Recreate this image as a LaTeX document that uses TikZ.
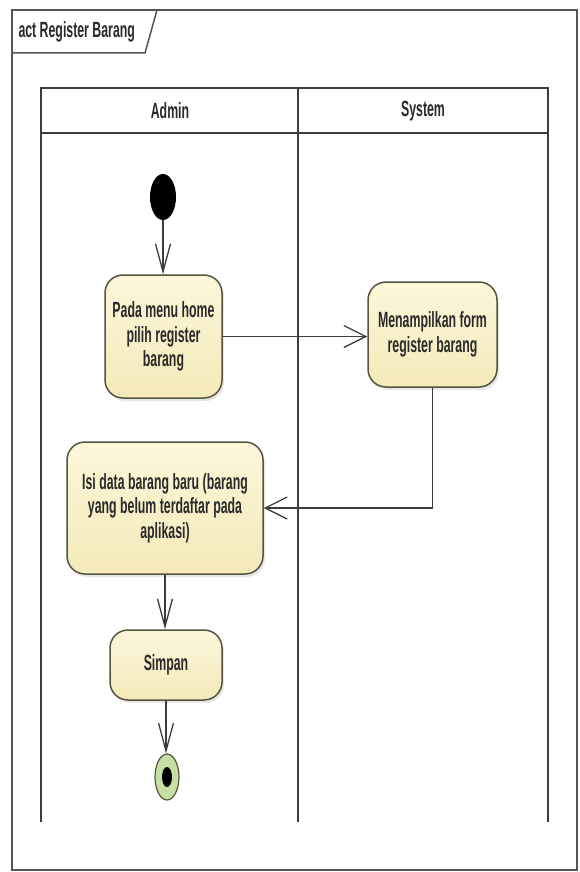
\documentclass[tikz,border=0pt]{standalone}
\usepackage{fontspec}
\newfontfamily\umlfont[FakeStretch=0.56]{Liberation Sans}
\usetikzlibrary{arrows.meta,shadows,shapes.geometric}

\definecolor{umlline}{HTML}{3C3C3C}
\definecolor{frameline}{HTML}{555555}
\definecolor{actfill}{HTML}{FCF7DA}
\definecolor{actfilldark}{HTML}{F3E9B9}
\definecolor{actborder}{HTML}{55553F}
\definecolor{finalgreen}{HTML}{C6DFA2}
\definecolor{umltext}{HTML}{2A2A2A}

\tikzset{
  x=1pt, y=-1pt,
  umltxt/.style={font=\umlfont\bfseries\fontsize{22}{24.5}\selectfont, text=umltext},
  action/.style={umltxt, draw=actborder, line width=1.5pt, rounded corners=18pt,
    top color=actfill, bottom color=actfilldark, align=center, inner sep=0pt,
    drop shadow={opacity=0.18, shadow xshift=2pt, shadow yshift=-3pt}},
  framebox/.style={draw=frameline, line width=1.5pt},
  lane/.style={draw=umlline, line width=1.6pt},
  flow/.style={draw=umlline, line width=1.4pt},
  vflow/.style={flow, -{Straight Barb[length=28pt,width=15pt,line width=1.3pt]}},
  hflow/.style={flow, -{Straight Barb[length=22pt,width=22pt,line width=1.3pt]}},
}

\begin{document}
\begin{tikzpicture}
\useasboundingbox (0,0) rectangle (580,872);
\fill[white] (0,0) rectangle (580,872);

% diagram frame with its name tab
\draw[framebox] (12,10) rectangle (577,870);
\draw[framebox] (12,53) -- (145,53) -- (157,10);
\node[umltxt, anchor=west] (title) at (15,32) {act Register Barang};

% swimlanes
\draw[lane] (41,88) rectangle (548,133);
\draw[lane] (298,88) -- (298,822);
\draw[lane] (41,133) -- (41,822);
\draw[lane] (548,133) -- (548,822);
\node[umltxt] (admin) at (170,111) {Admin};
\node[umltxt] (system) at (423,111) {System};

% activity nodes
\node[ellipse, fill=black, minimum width=26pt, minimum height=46pt, inner sep=0pt] (init) at (163,197) {};
\node[action, minimum width=117pt, minimum height=123pt] (pilih) at (163.5,336.5)
  {Pada menu home\\pilih register\\barang};
\node[action, minimum width=129pt, minimum height=105pt] (tampil) at (432.5,334.5)
  {Menampilkan form\\register barang};
\node[action, minimum width=196pt, minimum height=132pt] (isi) at (165,508)
  {Isi data barang baru (barang\\yang belum terdaftar pada\\aplikasi)};
\node[action, minimum width=112pt, minimum height=70pt] (simpan) at (166,665) {Simpan};
\node[ellipse, draw=actborder, line width=1.2pt, fill=finalgreen, minimum width=24pt,
  minimum height=46pt, inner sep=0pt] (final) at (167,777) {};
\node[ellipse, fill=black, minimum width=10pt, minimum height=20pt, inner sep=0pt]
  (finaldot) at (final.center) {};

% control flows
\draw[vflow] (init) -- (init |- pilih.north);
\draw[hflow] (pilih.east) -- (pilih.east -| tampil.west);
\draw[hflow] (tampil.south) |- (isi.east);
\draw[vflow] (isi.south) -- (isi.south |- simpan.north);
\draw[vflow] (simpan.south) -- (simpan.south |- final.north);
\end{tikzpicture}
\end{document}
